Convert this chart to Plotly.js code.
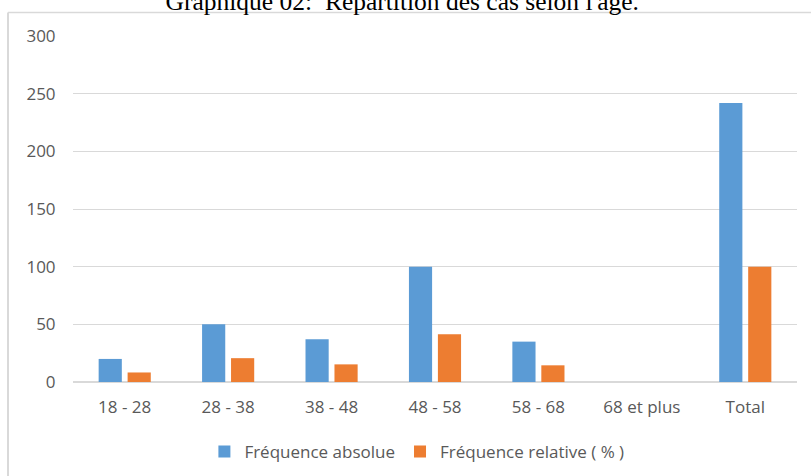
<!DOCTYPE html>
<html>
<head>
<meta charset="utf-8">
<script src="https://cdn.plot.ly/plotly-3.0.1.min.js"></script>
<style>
  html, body { margin: 0; padding: 0; background: #fff; }
  #chart { width: 811px; height: 476px; }
</style>
</head>
<body>
<div id="chart"></div>
<script>
// ---- Data ----
const categories = ["18 - 28", "28 - 38", "38 - 48", "48 - 58", "58 - 68", "68 et plus", "Total"];
const frequenceAbsolue = [20, 50, 37, 100, 35, 0, 242];
const frequenceRelative = [8.26, 20.66, 15.29, 41.32, 14.46, 0, 100];
const seriesNames = ["Fréquence absolue", "Fréquence relative ( % )"];
const yTicks = [0, 50, 100, 150, 200, 250, 300];
const chartTitle = "Graphique 02:  Répartition des cas selon l'âge.";

const textColor = "#595959";
const gridColor = "#D9D9D9";
const font = "'Open Sans', 'Liberation Sans', sans-serif";

const traces = [
  {
    type: "bar",
    name: seriesNames[0],
    x: categories,
    y: frequenceAbsolue,
    marker: { color: "#5B9BD5" },
    hoverinfo: "x+y+name"
  },
  {
    type: "bar",
    name: seriesNames[1],
    x: categories,
    y: frequenceRelative,
    marker: { color: "#ED7D31" },
    hoverinfo: "x+y+name"
  }
];

const layout = {
  width: 811,
  height: 476,
  margin: { l: 73, r: 14, t: 36, b: 94, autoexpand: false },
  paper_bgcolor: "#ffffff",
  plot_bgcolor: "#ffffff",
  barmode: "group",
  bargap: 0.44,
  bargroupgap: 0.2,
  font: { family: font, size: 17, color: textColor },
  title: {
    text: chartTitle,
    font: { family: "'Liberation Serif', 'Times New Roman', serif", size: 25.5, color: "#000000" },
    xref: "container",
    x: 0.496,
    xanchor: "center",
    yref: "container",
    y: 0.9975,
    yanchor: "middle"
  },
  xaxis: {
    type: "category",
    showgrid: false,
    showline: false,
    zeroline: false,
    ticks: "outside",
    ticklen: 10,
    tickcolor: "rgba(0,0,0,0)",
    tickfont: { family: font, size: 17, color: textColor },
    automargin: false,
    fixedrange: true
  },
  yaxis: {
    range: [0, 300],
    tickvals: yTicks,
    ticktext: yTicks.map(String),
    showgrid: true,
    gridcolor: gridColor,
    gridwidth: 1,
    zeroline: true,
    zerolinecolor: gridColor,
    zerolinewidth: 1.5,
    showline: false,
    ticks: "outside",
    ticklen: 13,
    tickcolor: "rgba(0,0,0,0)",
    tickfont: { family: font, size: 17, color: textColor },
    automargin: false,
    fixedrange: true
  },
  legend: {
    orientation: "h",
    xref: "paper",
    x: 0.475,
    xanchor: "center",
    yref: "container",
    y: 0.0504,
    yanchor: "middle",
    font: { family: font, size: 17, color: textColor },
    traceorder: "normal",
    itemwidth: 30
  },
  shapes: [
    {
      type: "line", xref: "paper", yref: "paper",
      x0: -0.0898, x1: -0.0898, y0: 1.068, y1: -0.3,
      line: { color: gridColor, width: 2 }
    },
    {
      type: "line", xref: "paper", yref: "paper",
      x0: -0.0898, x1: 1.03, y0: 1.068, y1: 1.068,
      line: { color: gridColor, width: 1.5 }
    }
  ],
  showlegend: true
};

Plotly.newPlot("chart", traces, layout, { displayModeBar: false, responsive: false });
</script>
</body>
</html>
